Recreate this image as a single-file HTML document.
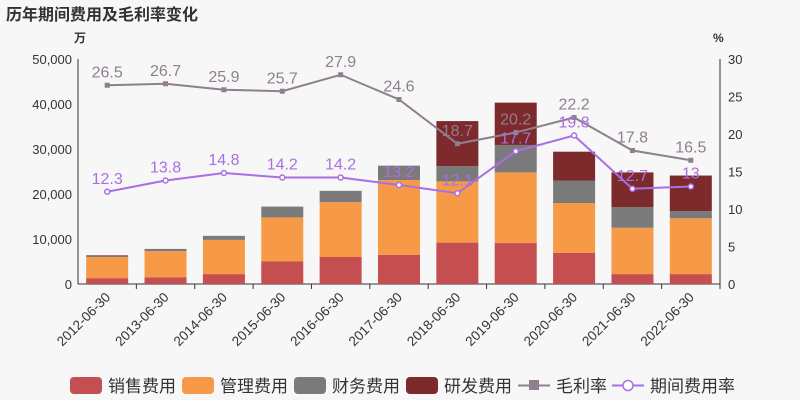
<!DOCTYPE html>
<html><head><meta charset="utf-8"><style>
body{margin:0;background:#f7f7f7;}
svg{display:block;font-family:"Liberation Sans","Noto Sans CJK SC",sans-serif;}
</style></head><body>
<svg id="c" width="800" height="400"></svg>
<script>
const categories=["2012-06-30","2013-06-30","2014-06-30","2015-06-30","2016-06-30","2017-06-30","2018-06-30","2019-06-30","2020-06-30","2021-06-30","2022-06-30"];
const sales=[1300,1500,2200,5000,6000,6500,9200,9100,6900,2200,2200];
const mgmt=[4700,5800,7600,9800,12200,16600,13600,15700,11100,10300,12400];
const fin=[300,500,900,2400,2500,3200,3400,6100,5000,4600,1600];
const rnd=[100,0,0,0,0,0,10000,9400,6400,7700,7900];
const gross=[26.5,26.7,25.9,25.7,27.9,24.6,18.7,20.2,22.2,17.8,16.5];
const expRate=[12.3,13.8,14.8,14.2,14.2,13.2,12.1,17.7,19.8,12.7,13];
const leftTicks=[0,10000,20000,30000,40000,50000];
const rightTicks=[0,5,10,15,20,25,30];
const NS="http://www.w3.org/2000/svg",svg=document.getElementById('c');
const L=78,R=720,T=59,B=284;
const yL=v=>B-(v/50000)*(B-T), yR=v=>B-(v/30)*(B-T);
const bw=(R-L)/categories.length, xC=i=>L+bw*(i+0.5);
function mk(t,a,txt){const e=document.createElementNS(NS,t);for(const k in a)e.setAttribute(k,a[k]);if(txt!=null)e.textContent=txt;svg.appendChild(e);return e;}
let e=mk('text',{x:6,y:20,'font-size':16,'font-weight':'bold',fill:'#333'},'历年期间费用及毛利率变化');

e=mk('text',{x:74,y:42,'font-size':12,fill:'#333','font-weight':'bold'},'万');

e=mk('text',{x:713,y:42,'font-size':12,fill:'#333','font-weight':'bold'},'%');

leftTicks.forEach(v=>{
 e=mk('text',{x:L-6,y:yL(v)+5,'font-size':13,'text-anchor':'end',fill:'#333'},v.toLocaleString('en-US'));
 
});
rightTicks.forEach(v=>{
 e=mk('text',{x:R+8,y:yR(v)+5,'font-size':13,fill:'#333'},String(v));
 
});
e=mk('line',{x1:L,x2:L,y1:T,y2:B,stroke:'#333'});
e=mk('line',{x1:R,x2:R,y1:T,y2:B,stroke:'#333'});
e=mk('line',{x1:L,x2:R,y1:B,y2:B,stroke:'#333'});
const series=[[sales,'#c44e50','sales'],[mgmt,'#f79a48','mgmt'],[fin,'#7a7a7a','fin'],[rnd,'#7c2a2b','rnd']];
categories.forEach((c,i)=>{
 let acc=0;
 series.forEach(([arr,col,n])=>{
  const v=arr[i];if(v<=0)return;
  const y0=yL(acc),y1=yL(acc+v);acc+=v;
  e=mk('rect',{x:xC(i)-21,y:y1,width:42,height:y0-y1,fill:col});
  
 });
 e=mk('line',{x1:L+bw*(i+1),x2:L+bw*(i+1),y1:B,y2:B+5,stroke:'#333'});
 e=mk('text',{x:xC(i)+4,y:B+14,'font-size':13.5,'text-anchor':'end',fill:'#333',transform:`rotate(-45 ${xC(i)+4} ${B+14})`},c);
 
});
function line(arr,col,name,marker){
 e=mk('polyline',{points:arr.map((v,i)=>xC(i)+','+yR(v)).join(' '),fill:'none',stroke:col,'stroke-width':2});
 
 arr.forEach((v,i)=>{
  if(marker==='sq'){e=mk('rect',{x:xC(i)-2.5,y:yR(v)-2.5,width:5,height:5,fill:col});}
  else{e=mk('circle',{cx:xC(i),cy:yR(v),r:2.5,fill:'#fff',stroke:col,'stroke-width':1.5});}
  
  e=mk('text',{x:xC(i),y:yR(v)-8,'font-size':16,'text-anchor':'middle',fill:col},String(v));
  
 });
}
line(gross,'#8f7f8f','gross-margin','sq');
line(expRate,'#a96fe3','expense-rate','c');
const leg=[['销售费用','#c44e50','r',70],['管理费用','#f79a48','r',182],['财务费用','#7a7a7a','r',294],['研发费用','#7c2a2b','r',406],['毛利率','#8f7f8f','l',518],['期间费用率','#a96fe3','c',612]];
leg.forEach(([t,col,k,x])=>{
 if(k==='r'){e=mk('rect',{x:x,y:377,width:32,height:17,rx:4,fill:col});}
 else{mk('line',{x1:x,x2:x+32,y1:385.5,y2:385.5,stroke:col,'stroke-width':2});
  e=k==='l'?mk('rect',{x:x+11,y:380,width:10,height:10,fill:col}):mk('circle',{cx:x+16,cy:385.5,r:5,fill:'#fff',stroke:col,'stroke-width':1.5});}
 
 e=mk('text',{x:x+38,y:392,'font-size':17,fill:'#333'},t);
 
});
</script>
</body></html>
